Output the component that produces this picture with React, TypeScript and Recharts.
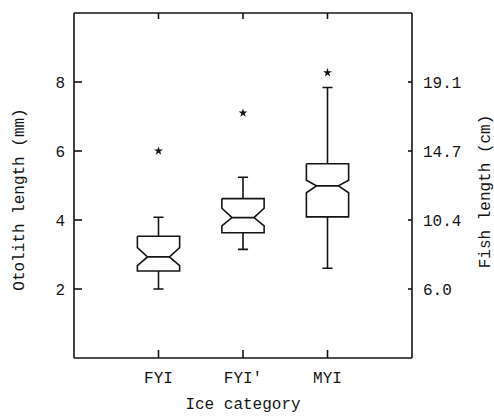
import { ComposedChart, Line, Scatter, XAxis, YAxis, ZAxis } from "recharts";

const INK = "#151515";
const FONT = "'Liberation Mono', 'DejaVu Sans Mono', monospace";

// otolith length (mm) per ice category
const categories = ["FYI", "FYI'", "MYI"];
const positions = [1, 2, 3];
const whiskerLow = [2.0, 3.15, 2.6];
const q1 = [2.52, 3.63, 4.09];
const notchLow = [2.68, 3.83, 4.79];
const median = [2.93, 4.07, 4.99];
const notchHigh = [3.2, 4.34, 5.15];
const q3 = [3.53, 4.62, 5.63];
const whiskerHigh = [4.08, 5.24, 7.84];
const outliers = [6.0, 7.1, 8.27];

const otolithTicks = [2, 4, 6, 8];
const fishTickLabels = ["6.0", "10.4", "14.7", "19.1"];

// box geometry in x-axis units
const HALF_BOX = 0.25;
const HALF_NOTCH = 0.13;
const HALF_CAP = 0.06;

type Pt = { x: number; y: number | null };

function boxPoints(i: number): Pt[] {
  const c = positions[i];
  const L = c - HALF_BOX;
  const R = c + HALF_BOX;
  const gap = { x: c, y: null };
  return [
    // notched outline
    { x: L, y: q3[i] },
    { x: R, y: q3[i] },
    { x: R, y: notchHigh[i] },
    { x: c + HALF_NOTCH, y: median[i] },
    { x: R, y: notchLow[i] },
    { x: R, y: q1[i] },
    { x: L, y: q1[i] },
    { x: L, y: notchLow[i] },
    { x: c - HALF_NOTCH, y: median[i] },
    { x: L, y: notchHigh[i] },
    { x: L, y: q3[i] },
    gap,
    // median
    { x: c - HALF_NOTCH, y: median[i] },
    { x: c + HALF_NOTCH, y: median[i] },
    gap,
    // upper whisker + cap
    { x: c, y: q3[i] },
    { x: c, y: whiskerHigh[i] },
    gap,
    { x: c - HALF_CAP, y: whiskerHigh[i] },
    { x: c + HALF_CAP, y: whiskerHigh[i] },
    gap,
    // lower whisker + cap
    { x: c, y: q1[i] },
    { x: c, y: whiskerLow[i] },
    gap,
    { x: c - HALF_CAP, y: whiskerLow[i] },
    { x: c + HALF_CAP, y: whiskerLow[i] },
  ];
}

const outlierData = positions.map((x, i) => ({ x, y: outliers[i] }));

const labelStyle = { fontSize: 16, fill: INK, fontFamily: FONT, textAnchor: "middle" as const };

type Side = "bottom" | "top" | "left" | "right";

// tick mark drawn inward from the frame, label (if any) outside
function inwardTick(side: Side, len: number, margin: number, label?: (v: number) => string) {
  return (props: any) => {
    const { x, y, payload } = props;
    const text = label ? label(payload.value) : "";
    let line;
    let t = null;
    if (side === "bottom") {
      const ay = y - margin;
      line = <line x1={x} x2={x} y1={ay} y2={ay - len} />;
      t = <text x={x} y={y} dy="0.71em" textAnchor="middle">{text}</text>;
    } else if (side === "top") {
      const ay = y + margin;
      line = <line x1={x} x2={x} y1={ay} y2={ay + len} />;
    } else if (side === "left") {
      const ax = x + margin;
      line = <line x1={ax} x2={ax + len} y1={y} y2={y} />;
      t = <text x={x} y={y} dy="0.355em" textAnchor="end">{text}</text>;
    } else {
      const ax = x - margin;
      line = <line x1={ax} x2={ax - len} y1={y} y2={y} />;
      t = <text x={x} y={y} dy="0.355em" textAnchor="start">{text}</text>;
    }
    return (
      <g>
        <g stroke={INK} strokeWidth={1.6}>{line}</g>
        {text && (
          <g fill={INK} fontSize={16} fontFamily={FONT}>{t}</g>
        )}
      </g>
    );
  };
}

export default function App() {
  return (
    <div style={{ background: "#fff", width: 494, height: 418 }}>
      <style>{"body{margin:0}"}</style>
      <ComposedChart width={494} height={418} margin={{ top: 0, right: 0, bottom: 0, left: 0 }}>
        <XAxis
          xAxisId={0}
          dataKey="x"
          type="number"
          orientation="bottom"
          domain={[0, 4]}
          ticks={positions}
          allowDataOverflow
          height={60}
          tick={inwardTick("bottom", 8, 14, (v) => categories[positions.indexOf(v)] ?? "")}
          tickLine={false}
          tickSize={0}
          tickMargin={14}
          stroke={INK}
          strokeWidth={1.6}
          label={{ value: "Ice category", position: "insideBottom", offset: 9, style: labelStyle }}
        />
        <XAxis
          xAxisId="top"
          dataKey="x"
          type="number"
          orientation="top"
          domain={[0, 4]}
          ticks={positions}
          allowDataOverflow
          height={13}
          tick={inwardTick("top", 6, 0)}
          tickLine={false}
          tickSize={0}
          tickMargin={0}
          stroke={INK}
          strokeWidth={1.6}
        />
        <YAxis
          yAxisId={0}
          type="number"
          domain={[0, 10]}
          ticks={otolithTicks}
          allowDataOverflow
          width={74}
          tick={inwardTick("left", 8, 9, (v) => String(v))}
          tickLine={false}
          tickSize={0}
          tickMargin={9}
          stroke={INK}
          strokeWidth={1.6}
          label={{
            value: "Otolith length (mm)",
            angle: -90,
            position: "insideLeft",
            offset: 18,
            dy: 14,
            style: labelStyle,
          }}
        />
        <YAxis
          yAxisId="r"
          orientation="right"
          type="number"
          domain={[0, 10]}
          ticks={otolithTicks}
          allowDataOverflow
          width={82}
          tick={inwardTick("right", 4, 11, (v) => fishTickLabels[otolithTicks.indexOf(v)] ?? "")}
          tickLine={false}
          tickSize={0}
          tickMargin={11}
          stroke={INK}
          strokeWidth={1.6}
          label={{
            value: "Fish length (cm)",
            angle: -90,
            position: "insideRight",
            offset: 10,
            dy: 6,
            style: labelStyle,
          }}
        />
        <ZAxis type="number" range={[24, 24]} />
        {positions.map((_, i) => (
          <Line
            key={categories[i]}
            data={boxPoints(i)}
            dataKey="y"
            type="linear"
            stroke={INK}
            strokeWidth={1.6}
            dot={false}
            activeDot={false}
            connectNulls={false}
            isAnimationActive={false}
          />
        ))}
        <Scatter
          data={outlierData}
          dataKey="y"
          xAxisId="top"
          yAxisId="r"
          shape="star"
          fill={INK}
          isAnimationActive={false}
        />
      </ComposedChart>
    </div>
  );
}
